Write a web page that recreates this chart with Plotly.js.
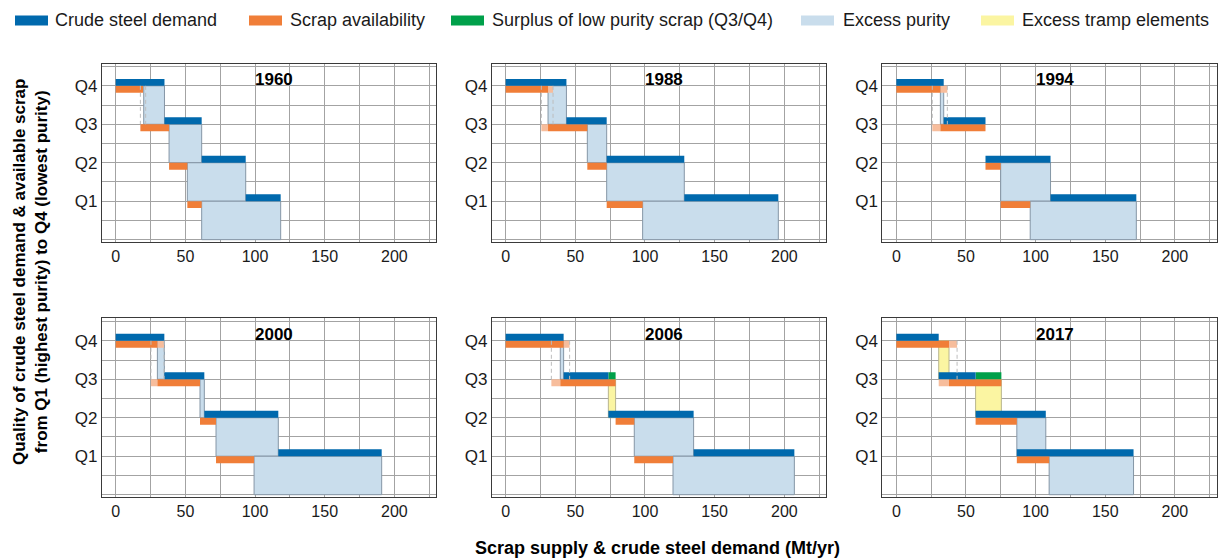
<!DOCTYPE html>
<html><head><meta charset="utf-8">
<script src="https://cdn.plot.ly/plotly-3.0.1.min.js"></script>
<style>html,body{margin:0;padding:0;background:#fff}</style>
</head><body><div id="chart" style="width:1219px;height:560px"></div>
<script>
// ---------------- DATA (Mt/yr) ----------------
const years = ['1960','1988','1994','2000','2006','2017'];
const qualityLabels = ['Q4','Q3','Q2','Q1'];
const qualityLevels = {Q4:4, Q3:3, Q2:2, Q1:1};
const xTicks = [0,50,100,150,200];

// Crude steel demand segments [start, end] for Q4, Q3, Q2, Q1
const demand1960 = [[0,35],[35,61.7],[61.7,93.3],[93.3,118.4]];
const demand1988 = [[0,43.6],[43.6,72.5],[72.5,128.2],[128.2,195.7]];
const demand1994 = [[0,34],[34,64],[64,110.7],[110.7,172.3]];
const demand2000 = [[0,34.9],[34.9,63.6],[63.6,116.7],[116.7,190.9]];
const demand2006 = [[0,41.6],[41.6,73.7],[73.7,134.9],[134.9,207.2]];
const demand2017 = [[0,30.4],[30.4,56.9],[56.9,107.3],[86.5,170.3]];

// Scrap availability segments [start, end] for Q4, Q3, Q2, Q1
const scrap1960 = [[0,19.6],[17.7,38.3],[38.3,51.4],[51.4,61.7]];
const scrap1988 = [[0,30.4],[30.4,58.6],[58.6,72.5],[72.5,98.3]];
const scrap1994 = [[0,31.6],[31.6,64],[64,74.9],[74.9,96.1]];
const scrap2000 = [[0,29.9],[29.9,60.5],[60.5,72],[72,99.3]];
const scrap2006 = [[0,41.6],[39.2,78.9],[78.9,92.3],[92.3,120.1]];
const scrap2017 = [[0,37.8],[37.8,75.4],[56.9,86.5],[86.5,109.7]];

// Scrap availability range (lighter shade): [quality, start, end]
const scrapRange1960 = [];
const scrapRange1988 = [['Q4',30.4,34.0],['Q3',25.6,30.4]];
const scrapRange1994 = [['Q4',31.6,36.6],['Q3',25.8,31.6]];
const scrapRange2000 = [['Q4',29.9,34.7],['Q3',25.3,29.9]];
const scrapRange2006 = [['Q4',41.6,45.9],['Q3',32.8,39.2]];
const scrapRange2017 = [['Q4',37.8,43.6],['Q3',30.4,37.8]];

// Surplus of low purity scrap: [quality, start, end]
const surplus1960 = [];
const surplus1988 = [];
const surplus1994 = [];
const surplus2000 = [];
const surplus2006 = [['Q3',73.7,78.9]];
const surplus2017 = [['Q3',56.9,75.4]];

// Excess purity areas: [quality, start, end]
const excessPurity1960 = [['Q4',20.1,35],['Q3',38.3,61.7],['Q2',51.4,93.3],['Q1',61.7,118.4]];
const excessPurity1988 = [['Q4',30.4,43.6],['Q3',58.6,72.5],['Q2',72.5,128.2],['Q1',98.3,195.7]];
const excessPurity1994 = [['Q4',31.6,34],['Q2',74.9,110.7],['Q1',96.1,172.3]];
const excessPurity2000 = [['Q4',29.9,34.9],['Q3',60.5,63.6],['Q2',72,116.7],['Q1',99.3,190.9]];
const excessPurity2006 = [['Q4',39.2,41.6],['Q2',92.3,134.9],['Q1',120.1,207.2]];
const excessPurity2017 = [['Q2',86.5,107.3],['Q1',109.7,170.3]];

// Excess tramp elements areas: [quality, start, end]
const excessTramp1960 = [];
const excessTramp1988 = [];
const excessTramp1994 = [];
const excessTramp2000 = [];
const excessTramp2006 = [['Q3',73.7,78.9]];
const excessTramp2017 = [['Q4',30.4,37.8],['Q3',56.9,75.4]];

// Range limits of scrap availability (dashed lines, Q4 -> Q3)
const rangeLines1960 = [17.7, 21.5];
const rangeLines1988 = [25.6, 34.0];
const rangeLines1994 = [25.8, 36.6];
const rangeLines2000 = [25.3, 34.7];
const rangeLines2006 = [32.8, 45.9];
const rangeLines2017 = [43.6];

const legendNames = ['Crude steel demand','Scrap availability','Surplus of low purity scrap (Q3/Q4)','Excess purity','Excess tramp elements'];

const panels = [
  {demand:demand1960, scrap:scrap1960, range:scrapRange1960, surplus:surplus1960, purity:excessPurity1960, tramp:excessTramp1960, lines:rangeLines1960},
  {demand:demand1988, scrap:scrap1988, range:scrapRange1988, surplus:surplus1988, purity:excessPurity1988, tramp:excessTramp1988, lines:rangeLines1988},
  {demand:demand1994, scrap:scrap1994, range:scrapRange1994, surplus:surplus1994, purity:excessPurity1994, tramp:excessTramp1994, lines:rangeLines1994},
  {demand:demand2000, scrap:scrap2000, range:scrapRange2000, surplus:surplus2000, purity:excessPurity2000, tramp:excessTramp2000, lines:rangeLines2000},
  {demand:demand2006, scrap:scrap2006, range:scrapRange2006, surplus:surplus2006, purity:excessPurity2006, tramp:excessTramp2006, lines:rangeLines2006},
  {demand:demand2017, scrap:scrap2017, range:scrapRange2017, surplus:surplus2017, purity:excessPurity2017, tramp:excessTramp2017, lines:rangeLines2017}
];

// ---------------- STYLE ----------------
const C = {
  demand:'#0069ad', scrap:'#f07e38', scrapRange:'#f7bd9c', surplus:'#00a04a',
  purity:'#c9ddec', purityLine:'#8596a6', tramp:'#fbf5a2', trampLine:'#b9b58e',
  grid:'#a3a3a3', frame:'#3a3a3a', text:'#1a1a1a'
};
const legendColors = [C.demand, C.scrap, C.surplus, C.purity, C.tramp];
const FONT = 'Liberation Sans, Arial, Helvetica, sans-serif';
const BAR_H = 0.18;
const W = 1219, H = 560;

const xDomains = [[0.0835,0.3578],[0.4034,0.6777],[0.7239,0.9981]];
const yDomains = [[0.5679,0.8866],[0.1125,0.4313]];

function segBars(items, axisN, yOffset, width, color, lineColor) {
  return {
    type:'bar', orientation:'h',
    y: items.map(d => d[0] + yOffset),
    base: items.map(d => d[1]),
    x: items.map(d => d[2] - d[1]),
    width: items.map(() => width),
    marker:{color:color, line:{color:lineColor || 'rgba(0,0,0,0)', width: lineColor ? 1 : 0}},
    xaxis:'x'+axisN, yaxis:'y'+axisN,
    showlegend:false, hoverinfo:'skip'
  };
}
function fromPairs(pairs) { return pairs.map((p,i) => [qualityLevels[qualityLabels[i]], p[0], p[1]]); }
function fromTriples(tr) { return tr.map(t => [qualityLevels[t[0]], t[1], t[2]]); }

const traces = [];
const layout = {
  width:W, height:H, margin:{l:0,r:0,t:0,b:0},
  paper_bgcolor:'#fff', plot_bgcolor:'#fff',
  barmode:'overlay', showlegend:false,
  font:{family:FONT, color:C.text, size:16},
  annotations:[], shapes:[]
};

panels.forEach((p, i) => {
  const n = i + 1;
  const col = i % 3, row = Math.floor(i / 3);
  traces.push(segBars(fromTriples(p.purity), n, -0.5, 1, C.purity, C.purityLine));
  traces.push(segBars(fromTriples(p.tramp), n, -0.5, 1, C.tramp, C.trampLine));
  const lx = [], ly = [];
  p.lines.forEach(v => { lx.push(v, v, null); ly.push(qualityLevels.Q4, qualityLevels.Q3, null); });
  traces.push({type:'scatter', mode:'lines', x:lx, y:ly, line:{color:'#bdbdbd', width:1, dash:'4px,3px'},
    xaxis:'x'+n, yaxis:'y'+n, showlegend:false, hoverinfo:'skip'});
  traces.push(segBars(fromTriples(p.range), n, -BAR_H/2, BAR_H, C.scrapRange));
  traces.push(segBars(fromPairs(p.scrap), n, -BAR_H/2, BAR_H, C.scrap));
  traces.push(segBars(fromTriples(p.surplus), n, BAR_H/2, BAR_H, C.surplus));
  traces.push(segBars(fromPairs(p.demand), n, BAR_H/2, BAR_H, C.demand));

  const axCommon = {showline:true, mirror:true, linecolor:C.frame, linewidth:1,
    showgrid:true, gridcolor:C.grid, gridwidth:1, zeroline:false, ticks:'', fixedrange:true};
  layout['xaxis'+n] = Object.assign({}, axCommon, {
    domain:xDomains[col], anchor:'y'+n, range:[-10,230],
    tickmode:'array', tickvals:xTicks, ticktext:xTicks.map(String),
    tickfont:{size:16, family:FONT, color:C.text},
    minor:{dtick:25, tick0:0, showgrid:true, gridcolor:C.grid, gridwidth:1}
  });
  layout['yaxis'+n] = Object.assign({}, axCommon, {
    domain:yDomains[row], anchor:'x'+n, range:[-0.06,4.58],
    tickmode:'array', tickvals:qualityLabels.map(q => qualityLevels[q]), ticktext:qualityLabels,
    tickfont:{size:17, family:FONT, color:C.text},
    minor:{dtick:0.5, tick0:0, showgrid:true, gridcolor:C.grid, gridwidth:1}
  });
  layout.annotations.push({text:'<b>'+years[i]+'</b>', xref:'x'+n+' domain', yref:'y'+n+' domain',
    x:0.515, y:0.912, xanchor:'center', yanchor:'middle', showarrow:false,
    font:{size:17, family:FONT, color:'#000'}});
});

// manual legend (swatch + label)
const legendSwatchX = [15, 249, 451, 801, 981];
const legendTextX = [53, 288, 490, 841, 1020];
legendNames.forEach((name, k) => {
  layout.shapes.push({type:'rect', xref:'paper', yref:'paper',
    x0:legendSwatchX[k]/W, x1:(legendSwatchX[k]+33)/W, y0:1-25.5/H, y1:1-15.5/H,
    fillcolor:legendColors[k], line:{width:0}});
  layout.annotations.push({text:name, xref:'paper', yref:'paper', x:legendTextX[k]/W, y:1-20/H,
    xanchor:'left', yanchor:'middle', showarrow:false, font:{size:18, family:FONT, color:C.text}});
});

layout.annotations.push({
  text:'<b>Scrap supply & crude steel demand (Mt/yr)</b>', xref:'paper', yref:'paper',
  x:658/W, y:1-548/H, xanchor:'center', yanchor:'middle', showarrow:false,
  font:{size:18, family:FONT, color:'#000'}
});
layout.annotations.push({
  text:'<b>Quality of crude steel demand & available scrap<br>from Q1 (highest purity) to Q4 (lowest purity)</b>',
  xref:'paper', yref:'paper', x:30/W, y:1-272/H, xanchor:'center', yanchor:'middle', textangle:-90, showarrow:false,
  font:{size:17, family:FONT, color:'#000'}
});

Plotly.newPlot('chart', traces, layout, {displayModeBar:false, staticPlot:true});
</script></body></html>
